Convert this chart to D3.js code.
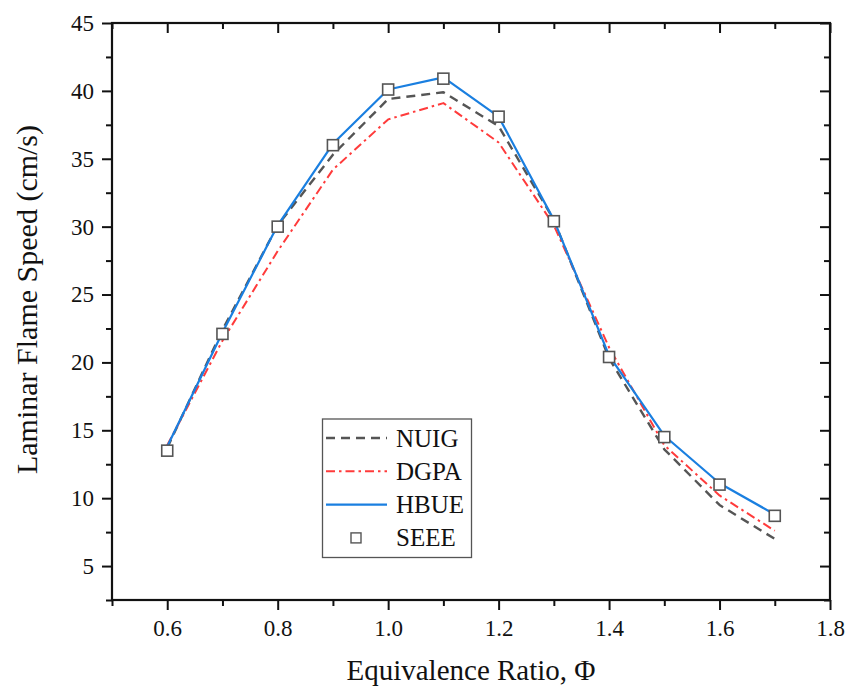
<!DOCTYPE html>
<html><head><meta charset="utf-8">
<script src="https://cdn.jsdelivr.net/npm/d3@7"></script>
<style>body{margin:0;background:#fff}svg{display:block}svg text{font-family:"Liberation Serif","DejaVu Serif",serif !important;fill:#111}</style>
</head><body><svg id="c" width="845" height="691"></svg>
<script>
const phi = [0.6,0.7,0.8,0.9,1.0,1.1,1.2,1.3,1.4,1.5,1.6,1.7];
const nuig = [13.7,22.4,30.1,35.3,39.4,39.9,37.4,30.5,20.3,13.6,9.5,7.0];
const dgpa = [13.9,21.6,28.2,34.2,37.9,39.1,36.2,30.1,21.1,13.9,10.2,7.6];
const hbue = [13.8,22.2,30.1,36.1,40.1,41.0,38.1,30.5,20.5,14.6,11.1,8.8];
const seee = [13.5,22.1,30.0,36.0,40.1,40.9,38.1,30.4,20.4,14.5,11.0,8.7];
const xTicks = [0.6,0.8,1.0,1.2,1.4,1.6,1.8];
const yTicks = [5,10,15,20,25,30,35,40,45];
const seriesNames = ["NUIG","DGPA","HBUE","SEEE"];

const FONT = '"Liberation Serif","DejaVu Serif",serif';
const svg = d3.select("#c");
const L=112,R=830,T=23,B=600;
const x = d3.scaleLinear().domain([0.5,1.8]).range([L,R]);
const y = d3.scaleLinear().domain([2.5,45]).range([B,T]);
const xMinor = d3.range(0.5,1.81,0.1).map(v=>+v.toFixed(2)).filter(v=>!xTicks.some(t=>Math.abs(t-v)<1e-6));
const yMinor = d3.range(2.5,45,5);

function styleAxis(g){g.attr("font-family",FONT);g.select(".domain").remove();g.selectAll("line").attr("stroke","#111").attr("stroke-width",2);}
// bottom
svg.append("g").attr("transform",`translate(0,${B})`).call(d3.axisBottom(x).tickValues(xTicks).tickSize(10).tickPadding(10).tickFormat(d3.format(".1f"))).call(styleAxis).selectAll("text").attr("font-size",23);
svg.append("g").attr("transform",`translate(0,${B})`).call(d3.axisBottom(x).tickValues(xMinor).tickSize(6).tickFormat("")).call(styleAxis);
// top (inward)
svg.append("g").attr("transform",`translate(0,${T})`).call(d3.axisBottom(x).tickValues(xTicks).tickSize(10).tickFormat("")).call(styleAxis);
svg.append("g").attr("transform",`translate(0,${T})`).call(d3.axisBottom(x).tickValues(xMinor).tickSize(6).tickFormat("")).call(styleAxis);
// left
svg.append("g").attr("transform",`translate(${L},0)`).call(d3.axisLeft(y).tickValues(yTicks).tickSize(10).tickPadding(8).tickFormat(d3.format("d"))).call(styleAxis).selectAll("text").attr("font-size",23);
svg.append("g").attr("transform",`translate(${L},0)`).call(d3.axisLeft(y).tickValues(yMinor).tickSize(6).tickFormat("")).call(styleAxis);
// right (inward)
svg.append("g").attr("transform",`translate(${R},0)`).call(d3.axisLeft(y).tickValues(yTicks).tickSize(10).tickFormat("")).call(styleAxis);
svg.append("g").attr("transform",`translate(${R},0)`).call(d3.axisLeft(y).tickValues(yMinor).tickSize(6).tickFormat("")).call(styleAxis);
// frame
svg.append("rect").attr("x",L).attr("y",T).attr("width",R-L).attr("height",B-T).attr("fill","none").attr("stroke","#111").attr("stroke-width",2.2);

const line = d3.line().x((d,i)=>x(phi[i])).y(d=>y(d));
const styles = {
  NUIG:{data:nuig,color:"#555555",dash:"9,6",w:2.4},
  DGPA:{data:dgpa,color:"#ff3b3b",dash:"9,4,2.5,4",w:2},
  HBUE:{data:hbue,color:"#1a7fe0",dash:null,w:2.2}
};
["NUIG","DGPA","HBUE"].forEach(k=>{
  const s=styles[k];
  svg.append("path").attr("d",line(s.data)).attr("fill","none").attr("stroke",s.color).attr("stroke-width",s.w).attr("stroke-dasharray",s.dash).attr("stroke-linejoin","round");
});
const ms=11;
svg.append("g").selectAll("rect").data(seee).join("rect")
  .attr("x",(d,i)=>x(phi[i])-ms/2).attr("y",d=>y(d)-ms/2).attr("width",ms).attr("height",ms)
  .attr("fill","#fff").attr("stroke","#555").attr("stroke-width",1.6);

// legend
const lg = svg.append("g").attr("font-family",FONT);
lg.append("rect").attr("x",322.5).attr("y",419).attr("width",149).attr("height",138.5).attr("fill","#fff").attr("stroke","#555").attr("stroke-width",1.3);
seriesNames.forEach((n,i)=>{
  const cy = 438 + i*33.3;
  if(n!=="SEEE"){
    const s=styles[n];
    lg.append("line").attr("x1",326).attr("x2",387).attr("y1",cy).attr("y2",cy).attr("stroke",s.color).attr("stroke-width",s.w).attr("stroke-dasharray",s.dash);
  } else {
    lg.append("rect").attr("x",356-5).attr("y",cy-5).attr("width",10).attr("height",10).attr("fill","#fff").attr("stroke","#555").attr("stroke-width",1.4);
  }
  lg.append("text").attr("x",396).attr("y",cy+8.5).attr("font-size",25).text(n);
});

// titles
svg.append("text").attr("x",(L+R)/2).attr("y",680).attr("text-anchor","middle").attr("font-size",29).attr("font-family",FONT).text("Equivalence Ratio, Φ");
svg.append("text").attr("transform",`translate(37,${(T+B)/2-12}) rotate(-90)`).attr("text-anchor","middle").attr("font-size",30).attr("font-family",FONT).text("Laminar Flame Speed (cm/s)");
</script></body></html>
